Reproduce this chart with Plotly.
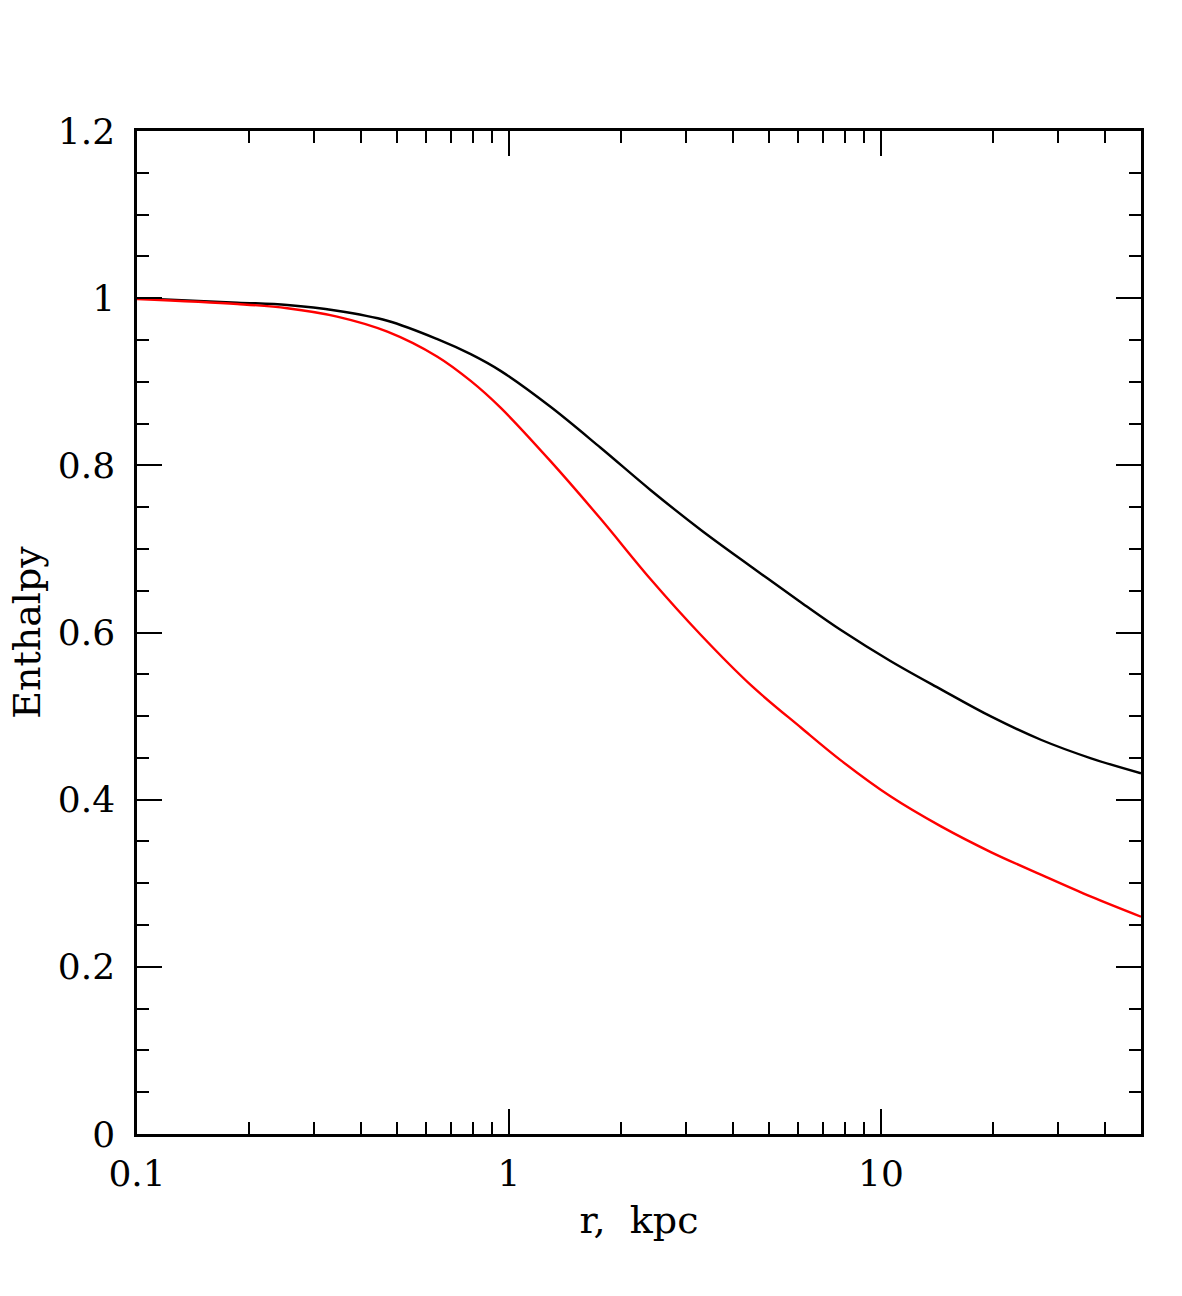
import plotly.graph_objects as go
import numpy as np

r_kpc = [0.1, 0.186, 0.2535, 0.345, 0.471, 0.642, 0.789, 0.949, 1.293, 1.763, 2.40,
         3.28, 4.47, 6.10, 7.80, 10.6, 14.5, 19.8, 27.0, 36.7, 50.0]
enthalpy_black = [1.0, 0.9947, 0.9919, 0.985, 0.973, 0.951, 0.933, 0.913, 0.870, 0.821, 0.7705,
                  0.7227, 0.679, 0.636, 0.603, 0.566, 0.532, 0.4993, 0.4714, 0.4495, 0.4316]
enthalpy_red = [0.999, 0.993, 0.988, 0.978, 0.960, 0.930, 0.901, 0.869, 0.805, 0.736, 0.664,
                0.597, 0.537, 0.486, 0.447, 0.404, 0.368, 0.337, 0.310, 0.284, 0.260]

x_tick_vals = [0.1, 1, 10]
x_tick_text = ["0.1", "1", "10"]
x_minor_vals = [0.2, 0.3, 0.4, 0.5, 0.6, 0.7, 0.8, 0.9,
                2, 3, 4, 5, 6, 7, 8, 9, 20, 30, 40, 50]
y_tick_vals = [0, 0.2, 0.4, 0.6, 0.8, 1.0, 1.2]
y_tick_text = ["0", "0.2", "0.4", "0.6", "0.8", "1", "1.2"]

FONT = "DejaVu Serif"

fig = go.Figure()
fig.add_trace(go.Scatter(x=r_kpc, y=enthalpy_black, mode="lines", line_shape="spline",
                         line=dict(color="black", width=2.4), showlegend=False))
fig.add_trace(go.Scatter(x=r_kpc, y=enthalpy_red, mode="lines", line_shape="spline",
                         line=dict(color="#ff0000", width=2.4), showlegend=False))

fig.update_layout(
    width=1182, height=1296,
    margin=dict(l=137, r=41, t=131, b=162),
    paper_bgcolor="white", plot_bgcolor="white",
    font=dict(family=FONT, size=36, color="black"),
)
fig.update_xaxes(
    type="log", range=[-1, np.log10(50)],
    tickvals=x_tick_vals, ticktext=x_tick_text,
    ticks="inside", ticklen=25, tickwidth=2, tickcolor="black",
    minor=dict(tickvals=x_minor_vals, ticks="inside", ticklen=12, tickwidth=2, tickcolor="black"),
    showline=True, linewidth=2.5, linecolor="black", mirror="allticks",
    showgrid=False, zeroline=False,
    ticklabelstandoff=6,
    title=dict(text="r,\u00a0\u00a0kpc", standoff=14, font=dict(family=FONT, size=38)),
    tickfont=dict(family=FONT, size=36),
)
fig.update_yaxes(
    range=[0, 1.2],
    tickvals=y_tick_vals, ticktext=y_tick_text,
    ticks="inside", ticklen=25, tickwidth=2, tickcolor="black",
    minor=dict(dtick=0.05, ticks="inside", ticklen=12, tickwidth=2, tickcolor="black"),
    showline=True, linewidth=2.5, linecolor="black", mirror="allticks",
    showgrid=False, zeroline=False,
    ticklabelstandoff=12,
    title=dict(text="Enthalpy", standoff=6, font=dict(family=FONT, size=38)),
    tickfont=dict(family=FONT, size=36),
)

fig.write_html("out.html")
